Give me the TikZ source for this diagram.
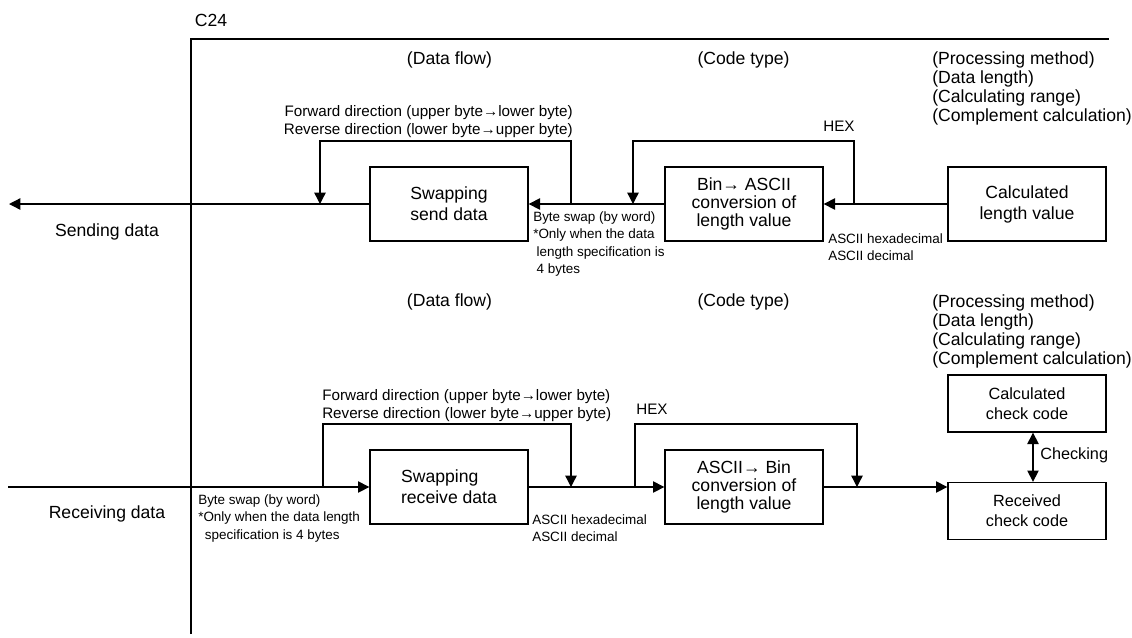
\documentclass[tikz,border=0pt]{standalone}
\usepackage{fontspec}
\setmainfont{Liberation Sans}
\usetikzlibrary{arrows.meta,positioning,calc}

\begin{document}
\begin{tikzpicture}[
      x=0.75pt, y=-0.75pt,
      font=\fontsize{13.2}{14.25}\selectfont,
      blk/.style={draw, line width=1pt, minimum width=118.5pt, minimum height=55.5pt, align=center, inner sep=2pt, font=\fontsize{13.2}{15.75}\selectfont},
      blkthree/.style={blk, font=\fontsize{13.2}{13.5}\selectfont},
      chkblk/.style={blk, minimum height=42.75pt, font=\fontsize{12.2}{15}\selectfont},
      flow/.style={-{Triangle[length=8.5pt,width=8.5pt]}, line width=1pt},
      flowboth/.style={{Triangle[length=8.5pt,width=8.5pt]}-{Triangle[length=8.5pt,width=8.5pt]}, line width=1pt},
      note/.style={inner sep=0pt, font=\fontsize{11.4}{13.5}\selectfont},
      small/.style={inner sep=0pt, align=left, font=\fontsize{10.1}{13.2}\selectfont}
  ]
    \useasboundingbox (0,0) rectangle (1132,637);

    % C24 frame
    \node (c24) at (211,20) {C24};
    \draw [line width=1pt] (191,634) -- (191,39) -- (1109,39);

    % Column headers
    \node (flowa) at (449.5,60) {(Data flow)};
    \node (codea) at (743.5,60) {(Code type)};
    \node [anchor=north west, inner sep=0pt, align=left] (proca) at (932,51) {(Processing method)\\(Data length)\\(Calculating range)\\(Complement calculation)};
    \node (flowb) at (449.5,302) {(Data flow)};
    \node (codeb) at (743.5,302) {(Code type)};
    \node [anchor=north west, inner sep=0pt, align=left] (procb) at (932,294) {(Processing method)\\(Data length)\\(Calculating range)\\(Complement calculation)};

    % Sending side
    \node [blk] (swaps) at (449,204) {Swapping\\send data};
    \node [blkthree] (bins) at (744,204) {Bin→ ASCII\\conversion of\\length value};
    \node [blk] (calc) at (1027,204) {Calculated\\length value};
    \coordinate (sendend) at (9,204);
    \node (sendtxt) at (107,232) {Sending data};

    \draw [flow] (calc) -- (bins);
    \draw [flow] (bins) -- (swaps);
    \draw [flow] (swaps) -- (sendend);

    \coordinate (hexsa) at (854,204);
    \coordinate (hexsb) at (633,204);
    \draw [flow] (hexsa) -- ++(0,-63) -| (hexsb);
    \node [note] (hexs) at (839,126) {HEX};

    \coordinate (swsa) at (571,204);
    \coordinate (swsb) at (320,204);
    \draw [flow] (swsa) -- ++(0,-63) -| (swsb);
    \node [note, anchor=east, align=right] (dirs) at (573,122) {Forward direction (upper byte→lower byte)\\Reverse direction (lower byte→upper byte)};

    \node [small, anchor=west] (bytes) at (533,244) {Byte swap (by word)\\*Only when the data\\\hspace{2.5pt}length specification is\\\hspace{2.5pt}4 bytes};
    \node [small, anchor=west] (ascs) at (828,247) {ASCII hexadecimal\\ASCII decimal};

    % Receiving side
    \node [blk, align=left] (swapr) at (449,487) {Swapping\\receive data};
    \node [blkthree] (binr) at (744,487) {ASCII→ Bin\\conversion of\\length value};
    \node [chkblk] (chkc) at (1027,403.5) {Calculated\\check code};
    \node [chkblk] (chkr) at (1027,511) {Received\\check code};
    \coordinate (recvstart) at (8,487);
    \node (recvtxt) at (107,514) {Receiving data};

    \draw [flow] (recvstart) -- (swapr);
    \draw [flow] (swapr) -- (binr);
    \draw [flow] (binr.east) -- (binr.east -| chkr.west);

    \coordinate (swra) at (323,487);
    \coordinate (swrb) at (571,487);
    \draw [flow] (swra) -- ++(0,-63) -| (swrb);
    \node [note, anchor=west, align=left] (dirr) at (322,405.5) {Forward direction (upper byte→lower byte)\\Reverse direction (lower byte→upper byte)};

    \coordinate (hexra) at (635,487);
    \coordinate (hexrb) at (857,487);
    \draw [flow] (hexra) -- ++(0,-63) -| (hexrb);
    \node [note] (hexr) at (652,409) {HEX};

    \draw [flowboth] ([xshift=4.5pt]chkc.south) -- ([xshift=4.5pt]chkr.north);
    \node [inner sep=0pt, anchor=west, font=\fontsize{12.2}{14}\selectfont] (chking) at (1040,455) {Checking};

    \node [small, anchor=west] (byter) at (198,518.5) {Byte swap (by word)\\*Only when the data length\\\hspace{5pt}specification is 4 bytes};
    \node [small, anchor=west] (ascr) at (532,528) {ASCII hexadecimal\\ASCII decimal};
\end{tikzpicture}
\end{document}
